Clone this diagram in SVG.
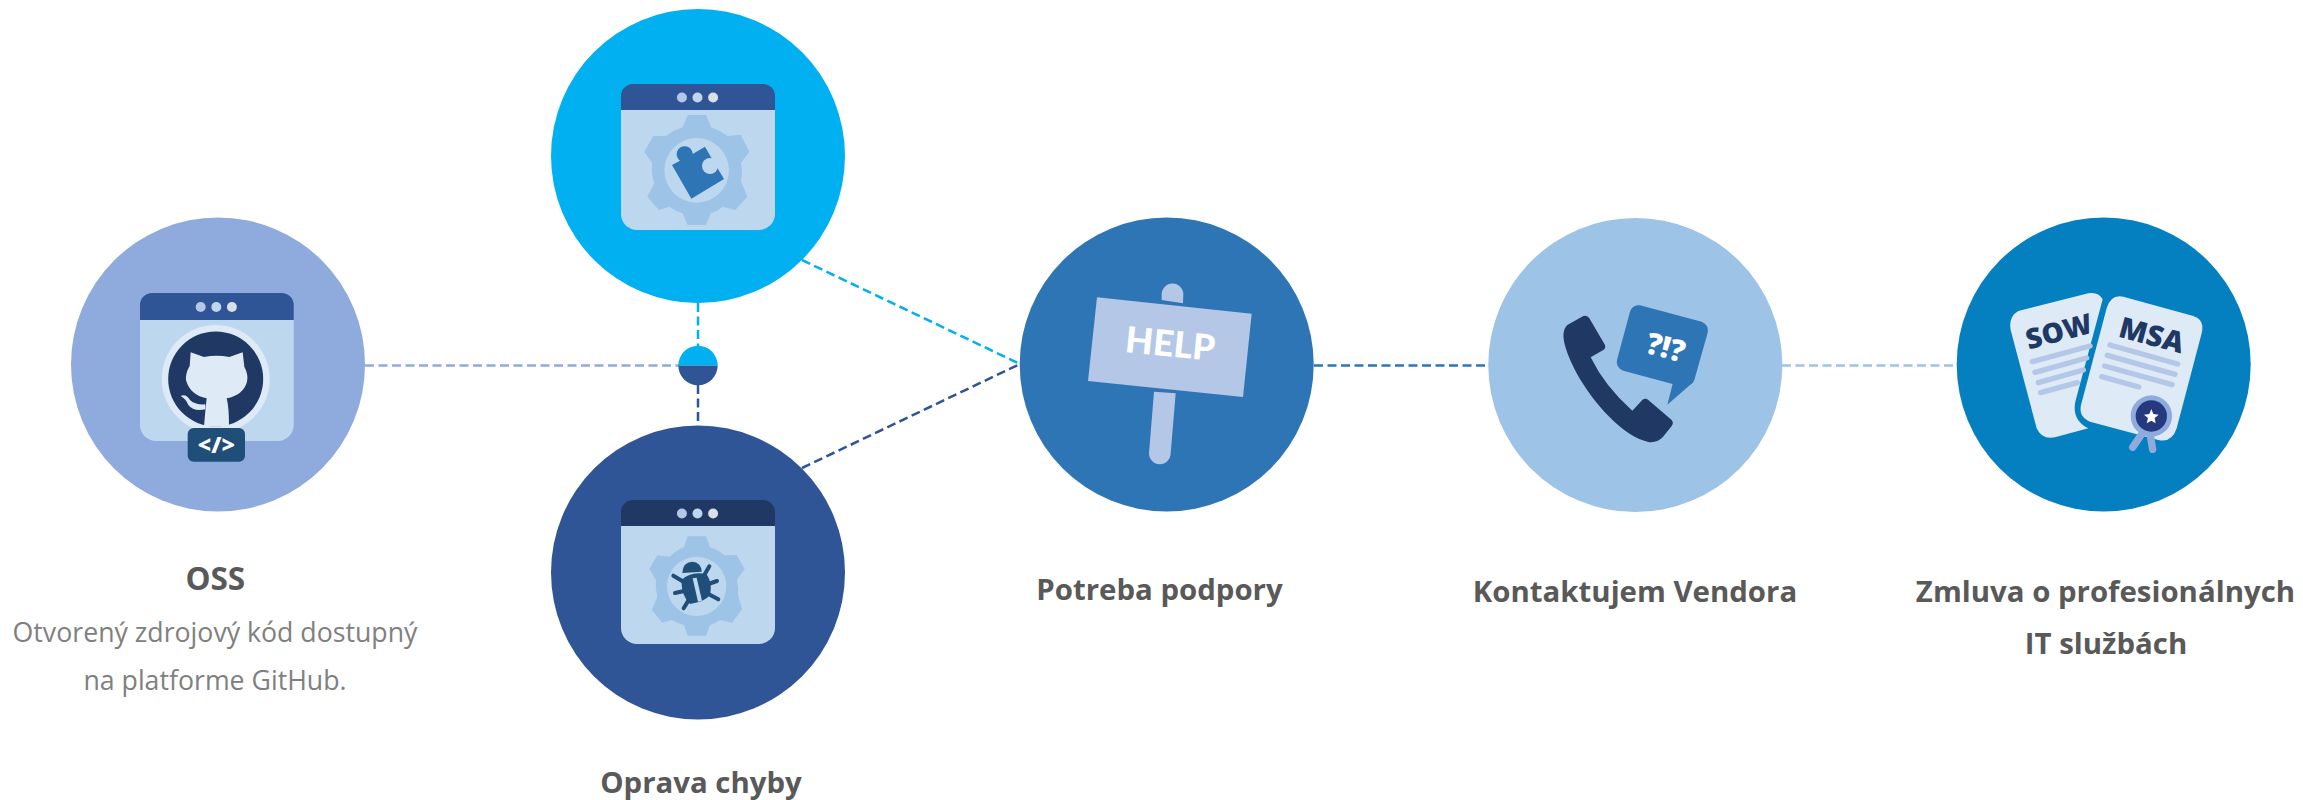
<svg xmlns="http://www.w3.org/2000/svg" width="2303" height="800" viewBox="0 0 2303 800">
<style>
.t{font-family:"Open Sans","Liberation Sans",sans-serif;font-weight:700;font-size:29.400px;fill:#595959;text-anchor:middle}
.d{font-family:"Open Sans","Liberation Sans",sans-serif;font-weight:400;font-size:26.700px;fill:#808080;text-anchor:middle}
.c{fill:none;stroke-width:2.500;stroke-dasharray:9 4.500}
.ic{font-family:"Open Sans","Liberation Sans",sans-serif;font-weight:800;text-anchor:middle}
.wb{fill:#bdd7ee}
.g{fill:#9dc3e6}
</style>
<defs>
<g id="dots"><circle cx="-15.600" r="5" fill="#b4c7e7"/><circle r="5" fill="#bdd7ee"/><circle cx="15.600" r="5" fill="#dbdfe6"/></g>
</defs>
<rect width="2303" height="800" fill="#fff"/>
<g id="connectors">
<path class="c" stroke="#8faadc" d="M365 365.500H679"/>
<path class="c" stroke="#00b0f0" d="M698 303V346"/>
<path class="c" stroke="#2f5597" d="M698 385V425"/>
<path class="c" stroke="#00b0f0" d="M802 260L1020 364"/>
<path class="c" stroke="#2f5597" d="M802 468L1020 364"/>
<path class="c" stroke="#2e75b6" d="M1314 365.500H1489"/>
<path class="c" stroke="#9dc3e6" d="M1782 365.500H1958"/>
<g id="junction"><path d="M678.300 365.500a19.700 19.700 0 0 1 39.400 0z" fill="#00b0f0"/><path d="M678.300 365.500a19.700 19.700 0 0 0 39.400 0z" fill="#2f5597"/></g>
</g>
<g id="node-oss">
<circle cx="218" cy="364.500" r="147" fill="#8faadc"/>
<path class="wb" d="M140 320H293.700V425a16 16 0 0 1-16 16H156a16 16 0 0 1-16-16z"/>
<path fill="#2f5597" d="M140 320V305a12 12 0 0 1 12-12H281.700a12 12 0 0 1 12 12V320z"/>
<use href="#dots" x="216.300" y="307"/>
<circle cx="215.700" cy="379" r="54" fill="#deeaf6"/>
<circle cx="215.700" cy="379" r="47.500" fill="#1f3864"/>
<g transform="translate(60 210) scale(.33333)" fill="#deeaf6">
<path d="M392 427L432 441Q470 434 508 441L548 427L553 470Q566 495 561 515Q550 555 500 565Q507 590 507 650H432Q436 600 440 565Q390 555 378 510Q376 490 389 468Z"/>
<path d="M362 558Q378 550 390 570Q405 585 436 583V598Q400 605 385 585Q378 567 362 558Z"/>
</g>
<rect x="187.700" y="428" width="57.300" height="33.700" rx="6" fill="#1f4e79"/>
<text class="ic" x="216.400" y="453" font-size="23" fill="#fff" font-weight="700">&lt;/&gt;</text>
</g>
<g id="node-fix-top">
<circle cx="698" cy="156" r="147" fill="#00b0f0"/>
<path class="wb" d="M621 110H775V214a16 16 0 0 1-16 16H637a16 16 0 0 1-16-16z"/>
<path fill="#2f5597" d="M621 110V96a12 12 0 0 1 12-12H763a12 12 0 0 1 12 12V110z"/>
<use href="#dots" x="697.500" y="97.500"/>
<g transform="translate(540 0) scale(.33333)">
<path class="g" d="M443 345H498L513 382Q542 392 563 408L602 404L628 455L603 488Q608 518 603 545L622 590L586 630L548 620Q532 634 512 640L498 675H443L428 640Q406 634 388 620L357 630L322 590L343 550Q332 520 337 490L313 455L340 408L378 408Q402 390 428 382Z"/>
<circle class="wb" cx="470" cy="511" r="97"/>
<path fill="#2e75b6" d="M396 495L420 482A24 24 0 1 1 458 462L495 440L513 472L552 537L454 596Z"/>
<circle class="wb" cx="510" cy="498" r="24"/>
</g>
</g>
<g id="node-fix-bottom">
<circle cx="698" cy="572.500" r="147" fill="#2f5597"/>
<path class="wb" d="M621 526H775V628a16 16 0 0 1-16 16H637a16 16 0 0 1-16-16z"/>
<path fill="#1f3864" d="M621 526V512a12 12 0 0 1 12-12H763a12 12 0 0 1 12 12V526z"/>
<use href="#dots" x="697.500" y="513.500"/>
<g transform="translate(540 330) scale(.33333)">
<path class="g" d="M443 619H498L510 652Q535 660 553 676L590 675L614 717L590 750Q597 772 594 795L606 838L576 878L540 870Q526 880 510 885L498 917H443L432 885Q412 880 395 870L367 878L336 840L352 800Q345 775 348 750L328 717L352 676L390 680Q410 660 432 652Z"/>
<circle class="wb" cx="470" cy="769" r="89"/>
<g stroke="#1f4e79" stroke-width="12" stroke-linecap="round" fill="none">
<path d="M400 737L437 759M508 709L490 740M405 789L432 783M531 753L505 762M431 835L445 812M535 808L505 792"/>
</g>
<path fill="#1f4e79" d="M427 729Q428 697 456 695Q484 697 485 725Z"/>
<path fill="#1f4e79" d="M424 750Q455 722 500 733Q518 760 510 795Q495 815 450 822Q425 800 424 750Z"/>
<path d="M458 745L470 743L486 812L474 815Z" fill="#bdd7ee"/>
</g>
</g>
<g id="node-help">
<circle cx="1166.700" cy="364.500" r="147" fill="#2e75b6"/>
<g transform="translate(1010 210) scale(.33333)" fill="#b4c7e7">
<path d="M455 270V253A32 32 0 0 1 520 253L519 280ZM432 545L497 550L482 730A32 32 0 0 1 417 730Z"/>
<path d="M261 262L725 311L699 561L234 513Z"/>
</g>
<text transform="translate(1169 356.500) rotate(5.800)" text-anchor="middle" font-family="Lato,sans-serif" font-weight="900" font-size="36" fill="#fff">HELP</text>
</g>
<g id="node-vendor">
<circle cx="1635.300" cy="365" r="147" fill="#9dc3e6"/>
<g transform="translate(1480 210) scale(.33333)">
<path fill="#1f3864" d="M262 345L310 318Q322 314 328 325L375 405Q378 415 370 420L332 442Q375 530 457 602L487 570Q496 562 505 570L575 630Q582 638 575 648L548 682Q530 700 505 696C430 680 340 580 290 490C260 430 235 370 262 345Z"/>
<path fill="#2e75b6" d="M480 286L665 335Q688 345 683 368L643 510Q640 520 630 525L562 584L578 522L430 482Q406 472 411 450L450 305Q458 282 480 286Z"/>
</g>
<text class="ic" transform="translate(1663 357.500) rotate(15)" font-size="30" font-weight="700" fill="#fff">?!?</text>
</g>
<g id="node-contract">
<circle cx="2103.700" cy="364.500" r="147" fill="#047fc0"/>
<g transform="translate(1950 210) scale(.33333)">
<path fill="#deeaf6" d="M205 303L415 250Q445 245 458 268L376 575Q365 630 415 655L315 682Q275 690 260 655L182 360Q175 320 205 303Z"/>
<path fill="none" stroke="#b4c7e7" stroke-width="16" stroke-linecap="round" d="M247 455L420 408M255 487L410 444M265 518L400 480M272 548L382 518"/>
<path fill="#deeaf6" d="M520 260L730 318Q765 330 755 370L680 655Q665 700 625 690L420 635Q385 620 393 585L470 295Q482 252 520 260Z"/>
<path fill="none" stroke="#b4c7e7" stroke-width="16" stroke-linecap="round" d="M480 405L683 462M472 436L675 493M464 468L666 524M455 500L566 531"/>
<path fill="none" stroke="#8faadc" stroke-width="22" stroke-linecap="round" d="M580 665L548 712M600 670L608 718"/>
<circle cx="604" cy="618" r="62" fill="#8faadc"/>
<circle cx="604" cy="618" r="47" fill="#26397f"/>
<path fill="#fff" d="M604 597L610 612L626 614L614 624L617 640L604 632L590 640L594 624L582 614L598 612Z"/>
</g>
<text class="ic" transform="translate(2061.500 341) rotate(-15)" font-size="28" fill="#1f3864">SOW</text>
<text class="ic" transform="translate(2149 345) rotate(15)" font-size="29" fill="#1f3864">MSA</text>
</g>
<g id="labels">
<text class="t" x="215.300" y="590" style="font-size:31.500px">OSS</text>
<text class="d" x="215" y="642">Otvorený zdrojový kód dostupný</text>
<text class="d" x="215" y="690">na platforme GitHub.</text>
<text class="t" x="701" y="793">Oprava chyby</text>
<text class="t" x="1159.500" y="600">Potreba podpory</text>
<text class="t" x="1635" y="602">Kontaktujem Vendora</text>
<text class="t" x="2105.500" y="602">Zmluva o profesionálnych</text>
<text class="t" x="2106" y="654">IT službách</text>
</g>
</svg>
